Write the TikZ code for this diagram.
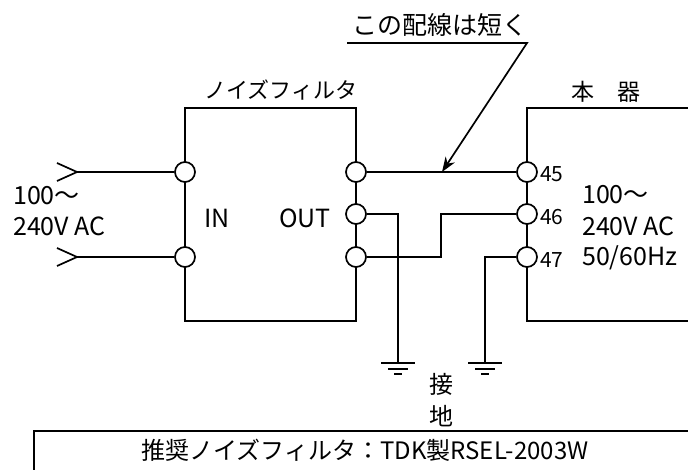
\documentclass[tikz,border=0pt]{standalone}
\usepackage{fontspec}
\setmainfont{Noto Sans CJK JP}
\usetikzlibrary{arrows.meta}
\tikzstyle{wire}=[line width=1.7pt]
\tikzstyle{terminal}=[circle, draw, line width=1.7pt, fill=white, inner sep=0pt, minimum size=20pt]
\tikzstyle{label}=[inner sep=0pt, font=\fontsize{22}{24}\selectfont]
\tikzstyle{latin}=[inner sep=0pt, font=\fontsize{25}{26}\selectfont]
\tikzstyle{number}=[inner sep=0pt, anchor=west, font=\fontsize{21}{22}\selectfont]
\tikzset{ground/.pic={
  \draw[wire] (-17,0) -- (17,0);
  \draw[wire] (-10,6) -- (10,6);
  \draw[wire] (-4,11) -- (4,11);
}}

\begin{document}
\begin{tikzpicture}[x=1pt, y=-1pt]
          \useasboundingbox (0,0) rectangle (688,470);
          % boxes
          \draw[wire] (185,108) rectangle (356,321);
          \draw[wire] (688,108) -- (527,108) -- (527,321) -- (688,321);
          \draw[wire] (34,470) -- (34,431) -- (688,431);
          % terminals
          \node[terminal] (in1) at (185,172) {};
          \node[terminal] (in2) at (185,257) {};
          \node[terminal] (out1) at (356,172) {};
          \node[terminal] (out2) at (356,214) {};
          \node[terminal] (out3) at (356,257) {};
          \node[terminal] (t45) at (527,172) {};
          \node[terminal] (t46) at (527,214) {};
          \node[terminal] (t47) at (527,257) {};
          \coordinate (plug1) at (77,172);
          \coordinate (plug2) at (77,257);
          \coordinate (gnd1) at (398,363);
          \coordinate (gnd2) at (485,363);
          % wiring
          \draw[wire] (plug1) -- (in1);
          \draw[wire] (plug2) -- (in2);
          \draw[wire] (plug1) ++(-20,-9) -- (plug1) -- ++(-20,9);
          \draw[wire] (plug2) ++(-20,-9) -- (plug2) -- ++(-20,9);
          \draw[wire] (out1) -- (t45);
          \draw[wire] (out2) -| (gnd1);
          \draw[wire] (out3) -- (441,257) |- (t46);
          \draw[wire] (t47) -| (gnd2);
          \pic at (gnd1) {ground};
          \pic at (gnd2) {ground};
          % note
          \node[label, font=\fontsize{25}{26}\selectfont] (note) at (440,25) {この配線は短く};
          \coordinate (bend) at (527,43);
          \draw[wire, -{Stealth[length=15pt, width=11pt]}] (347,43) -- (bend) -- (442,172);
          % texts
          \node[label] (filter) at (281,90) {ノイズフィルタ};
          \node[label, font=\fontsize{23}{24}\selectfont] (unit) at (606,92) {本　器};
          \node[latin] (inlabel) at (217,218) {IN};
          \node[latin] (outlabel) at (305,218) {OUT};
          \node[latin, anchor=west] (acin1) at (13,196) {100～};
          \node[latin, anchor=west] (acin2) at (13,226) {240V AC};
          \node[latin, anchor=west] (ac1) at (582,195) {100～};
          \node[latin, anchor=west] (ac2) at (582,226) {240V AC};
          \node[latin, anchor=west] (ac3) at (582,258) {50/60Hz};
          \node[number] (n45) at (540,174) {45};
          \node[number] (n46) at (540,217) {46};
          \node[number] (n47) at (540,260) {47};
          \node[label, font=\fontsize{24}{26}\selectfont] (earth1) at (441,384) {接};
          \node[label, font=\fontsize{24}{26}\selectfont] (earth2) at (441,416) {地};
          \node[label, font=\fontsize{24}{26}\selectfont] (spec) at (365,450) {推奨ノイズフィルタ：TDK製RSEL-2003W};
        \end{tikzpicture}
\end{document}
